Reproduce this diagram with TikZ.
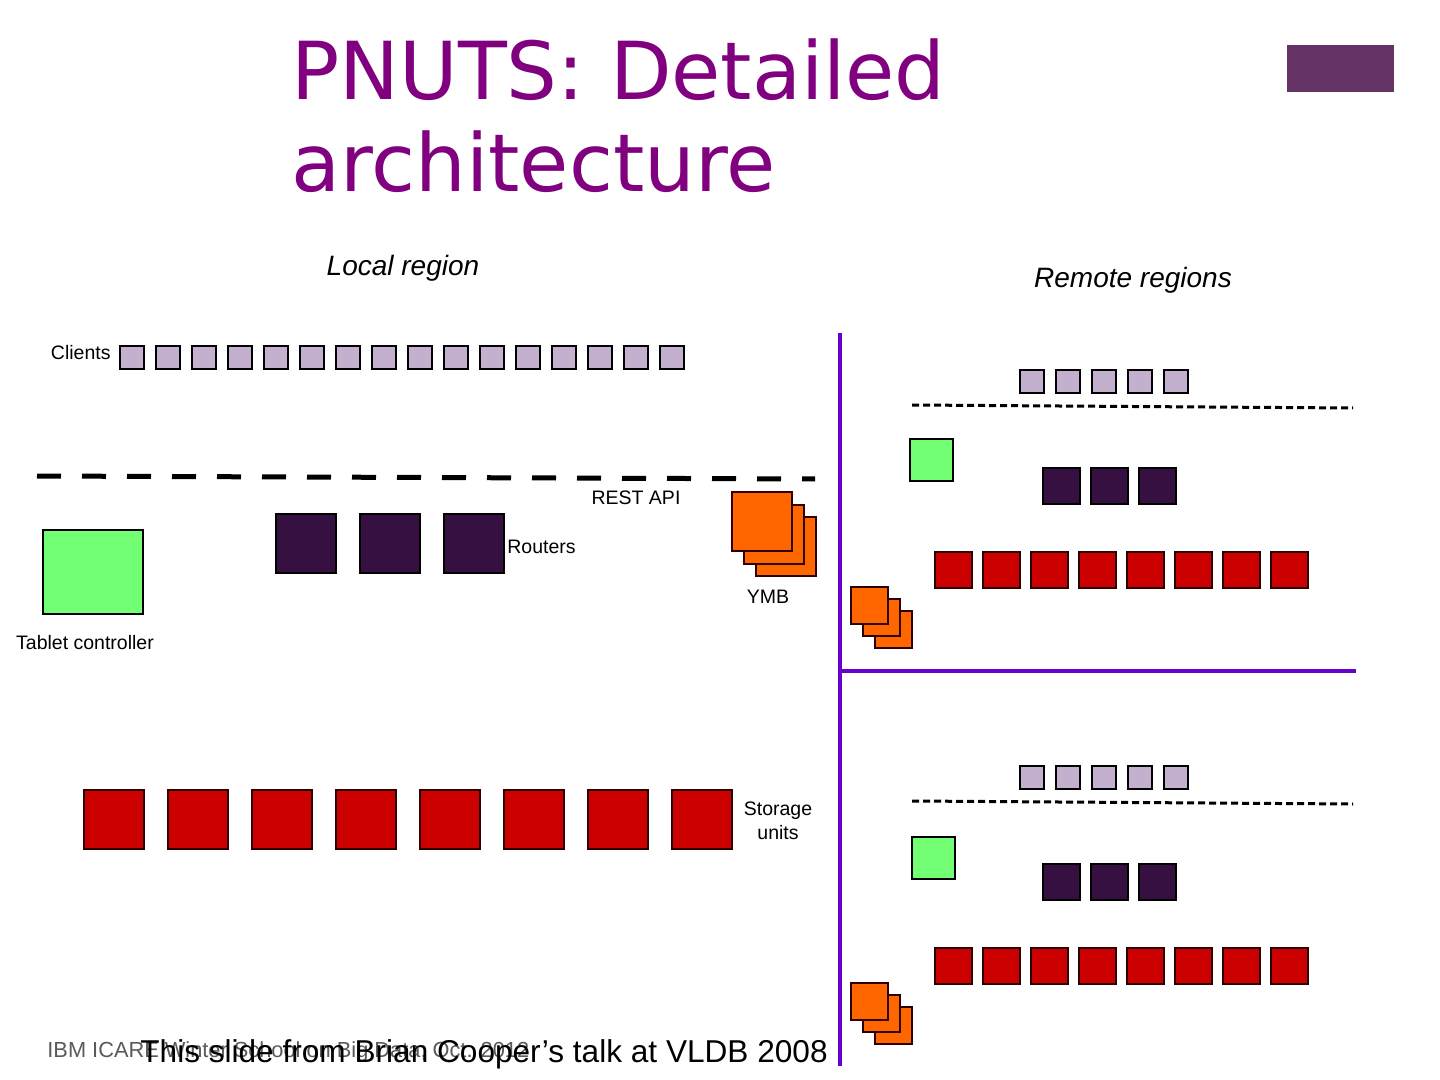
\documentclass[tikz,border=0pt]{standalone}
\usepackage{fontspec}
\setmainfont{Liberation Sans}
\newfontfamily\titlefont{DejaVu Sans}
\definecolor{clientfill}{RGB}{194,176,206}
\definecolor{routerfill}{RGB}{55,16,66}
\definecolor{tcfill}{RGB}{115,255,115}
\definecolor{sufill}{RGB}{204,0,0}
\definecolor{ymbfill}{RGB}{255,102,0}
\definecolor{titlecol}{RGB}{128,0,128}
\definecolor{cornercol}{RGB}{102,51,102}
\definecolor{divcol}{RGB}{102,0,204}
\definecolor{darkedge}{RGB}{45,0,0}
\definecolor{footgray}{RGB}{90,90,90}
\tikzset{
  sz/.style 2 args={minimum width=#1*0.5pt, minimum height=#2*0.5pt, inner sep=0pt, outer sep=0pt},
  clientbox/.style={draw=black, line width=1pt, fill=clientfill},
  routerbox/.style={draw=black, line width=1pt, fill=routerfill},
  tcbox/.style={draw=black, line width=1pt, fill=tcfill},
  subox/.style={draw=darkedge, line width=1pt, fill=sufill},
  ymbbox/.style={draw=darkedge, line width=1pt, fill=ymbfill},
  lbl/.style={inner sep=0pt, font=\fontsize{9.75pt}{12pt}\selectfont},
  region/.style={inner sep=0pt, font=\fontsize{14pt}{16pt}\selectfont\itshape},
  divider/.style={draw=divcol, line width=2pt},
  apiline/.style={draw=black, line width=2.5pt, dash pattern=on 12pt off 10.5pt},
  remline/.style={draw=black, line width=1.5pt, dash pattern=on 3.5pt off 2pt},
}
\begin{document}
\begin{tikzpicture}[x=0.5pt,y=-0.5pt]
\useasboundingbox[fill=white] (0,0) rectangle (1440,1080);

% title
\node[anchor=base west, inner sep=0pt, text=titlecol, font=\titlefont\fontsize{40pt}{46pt}\selectfont] (title1) at (291,100) {PNUTS: Detailed};
\node[anchor=base west, inner sep=0pt, text=titlecol, font=\titlefont\fontsize{40pt}{46pt}\selectfont] (title2) at (291,192) {architecture};
\node[fill=cornercol, sz={107}{47}, anchor=north west] (corner) at (1287,45) {};

% region titles
\node[region, anchor=base] (localreg) at (403,276) {Local region};
\node[region, anchor=base] (remotereg) at (1133,288) {Remote regions};

% dividers
\coordinate (vtop) at (840,333);
\coordinate (vbot) at (840,1066);
\coordinate (hl) at (840,671);
\coordinate (hr) at (1356,671);
\draw[divider] (vtop) -- (vbot);
\draw[divider] (hl) -- (hr);

% ---------- local region ----------
\node[lbl, anchor=base east] (clientslbl) at (111,360) {Clients};
\foreach \i in {0,...,15} {
  \node[clientbox, sz={24}{23}] (lc\i) at ({132+36*\i},357.5) {};
}
\coordinate (apiL) at (37,476);
\coordinate (apiR) at (815,479);
\draw[apiline] (apiL) -- (apiR);
\node[lbl, anchor=base] (restapi) at (636,504) {REST API};

\foreach \i/\x in {1/306,2/390,3/474} {
  \node[routerbox, sz={60}{59}] (lr\i) at (\x,543.5) {};
}
\node[lbl, anchor=base west] (routerslbl) at (507,553) {Routers};

\node[tcbox, sz={100}{84}] (tc) at (93,572) {};
\node[lbl, anchor=base] (tclbl) at (85,649) {Tablet controller};

\node[ymbbox, sz={60}{59}] (ymb3) at (786,546) {};
\node[ymbbox, sz={60}{59}] (ymb2) at (774,534) {};
\node[ymbbox, sz={60}{59}] (ymb1) at (762,521.5) {};
\node[lbl, anchor=base] (ymblbl) at (768,603) {YMB};

\foreach \i in {0,...,7} {
  \node[subox, sz={60}{59}] (ls\i) at ({114+84*\i},819.5) {};
}
\node[lbl, anchor=base, align=center] (sulbl) at (778,839) {Storage\\units};

% ---------- remote regions ----------
\foreach \r/\dy in {a/0,b/396} {
  \foreach \i in {0,...,4} {
    \node[clientbox, sz={24}{23}] (rc\r\i) at ({1032+36*\i},{381.5+\dy}) {};
  }
  \coordinate (rdl\r) at (912,{405+\dy});
  \coordinate (rdr\r) at (1353,{408+\dy});
  \draw[remline] (rdl\r) -- (rdr\r);
  \foreach \i/\x in {1/1061.5,2/1109.5,3/1157.5} {
    \node[routerbox, sz={37}{36}] (rr\r\i) at (\x,{486+\dy}) {};
  }
  \foreach \i in {0,...,7} {
    \node[subox, sz={37}{36}] (rs\r\i) at ({953.5+48*\i},{570+\dy}) {};
  }
  \node[ymbbox, sz={37}{37}] (rya\r) at (893.5,{629.5+\dy}) {};
  \node[ymbbox, sz={37}{37}] (ryb\r) at (881.5,{617.5+\dy}) {};
  \node[ymbbox, sz={37}{37}] (ryc\r) at (869.5,{605.5+\dy}) {};
}
\node[tcbox, sz={43}{42}] (rtca) at (931.5,460) {};
\node[tcbox, sz={43}{42}] (rtcb) at (933.5,857.5) {};

% footer
\node[anchor=base west, inner sep=0pt, text=footgray, font=\fontsize{10.9pt}{13pt}\selectfont] (foot1) at (47,1057) {IBM ICARE Winter School on Big Data, Oct. 2012};
\node[anchor=base west, inner sep=0pt, font=\fontsize{15.8pt}{18pt}\selectfont] (foot2) at (140,1062) {This slide from Brian Cooper’s talk at VLDB 2008};
\end{tikzpicture}
\end{document}
